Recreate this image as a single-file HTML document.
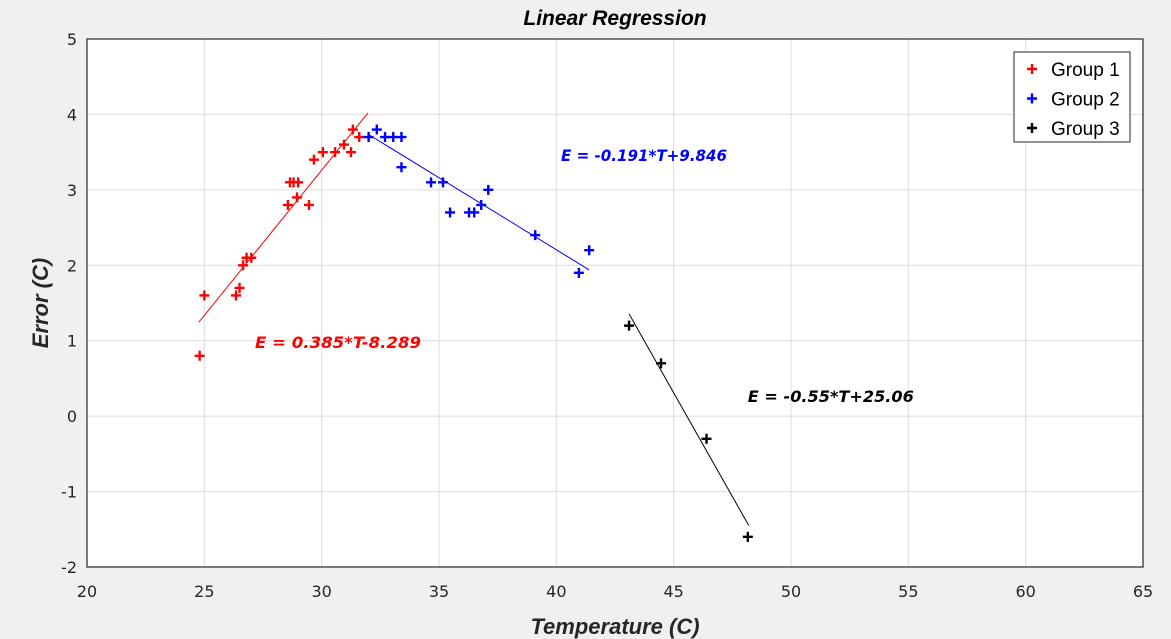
<!DOCTYPE html>
<html><head><meta charset="utf-8"><style>
body{margin:0;background:#f0f0f0;}
svg{display:block;font-family:"DejaVu Sans","Liberation Sans",sans-serif;}
</style></head><body>
<svg id="chart" width="1171" height="639" xmlns="http://www.w3.org/2000/svg">
<rect width="1171" height="639" fill="#f0f0f0"/>
<g id="plot"></g>
</svg>
<script>
const xTicks=[20,25,30,35,40,45,50,55,60,65];
const yTicks=[-2,-1,0,1,2,3,4,5];
const g1T=[24.8,25.0,26.35,26.5,26.65,26.8,27.0,28.56,28.65,28.8,28.95,29.0,29.46,29.67,30.05,30.57,30.95,31.25,31.33,31.6];
const g1E=[0.8,1.6,1.6,1.7,2.0,2.1,2.1,2.8,3.1,3.1,2.9,3.1,2.8,3.4,3.5,3.5,3.6,3.5,3.8,3.7];
const g2T=[32.0,32.35,32.7,33.05,33.4,33.4,34.66,35.17,35.47,36.28,36.5,36.8,37.1,39.1,40.96,41.4];
const g2E=[3.7,3.8,3.7,3.7,3.7,3.3,3.1,3.1,2.7,2.7,2.7,2.8,3.0,2.4,1.9,2.2];
const g3T=[43.1,44.46,46.4,48.16];
const g3E=[1.2,0.7,-0.3,-1.6];
const fits=[{m:0.385,b:-8.289,t0:24.77,t1:31.97,c:'#ff0000',label:'E = 0.385*T-8.289',lt:27.16,le:0.98},
{m:-0.191,b:9.846,t0:32.0,t1:41.4,c:'#0000ff',label:'E = -0.191*T+9.846',lt:40.2,le:3.46},
{m:-0.55,b:25.06,t0:43.1,t1:48.2,c:'#000000',label:'E = -0.55*T+25.06',lt:48.16,le:0.27}];
const L=87,R=1143,T=39,B=567;
const sx=v=>L+(v-20)/45*(R-L), sy=v=>B-(v+2)/7*(B-T);
const p=document.getElementById('plot');const NS='http://www.w3.org/2000/svg';
function el(t,a,par){const e=document.createElementNS(NS,t);for(const k in a)e.setAttribute(k,a[k]);(par||p).appendChild(e);return e;}
let bg=el('rect',{x:L,y:T,width:R-L,height:B-T,fill:'#fff'});


xTicks.forEach(v=>{let l=el('line',{x1:sx(v),x2:sx(v),y1:T,y2:B,stroke:'#dcdcdc','stroke-width':1});


let t=el('text',{x:sx(v),y:B+30,'text-anchor':'middle','font-size':16,fill:'#262626'});t.textContent=v;

});
yTicks.forEach(v=>{let l=el('line',{x1:L,x2:R,y1:sy(v),y2:sy(v),stroke:'#dcdcdc','stroke-width':1});


let t=el('text',{x:L-10,y:sy(v)+6,'text-anchor':'end','font-size':16,fill:'#262626'});t.textContent=v;

});
let fr=el('rect',{x:L,y:T,width:R-L,height:B-T,fill:'none',stroke:'#262626','stroke-width':1.2});


fits.forEach((f,i)=>{let l=el('line',{x1:sx(f.t0),y1:sy(f.m*f.t0+f.b),x2:sx(f.t1),y2:sy(f.m*f.t1+f.b),stroke:f.c,'stroke-width':1});


let t=el('text',{x:sx(f.lt),y:sy(f.le)+6,'text-anchor':'start','font-size':16,'font-weight':'bold','font-style':'italic',fill:f.c,textLength:166,lengthAdjust:'spacingAndGlyphs'});t.textContent=f.label;

});
function plus(x,y,c,par){let g=el('path',{d:`M${x-5} ${y}H${x+5}M${x} ${y-5}V${y+5}`,stroke:c,'stroke-width':2.4,fill:'none'},par);return g;}
[[g1T,g1E,'#ff0000'],[g2T,g2E,'#0000ff'],[g3T,g3E,'#000000']].forEach((s,gi)=>{s[0].forEach((t,i)=>{let m=plus(sx(t),sy(s[1][i]),s[2]);

});});
let lg=el('g',{});


el('rect',{x:1014,y:52,width:116,height:90,fill:'#fff',stroke:'#262626','stroke-width':1},lg);
['#ff0000','#0000ff','#000000'].forEach((c,i)=>{let y=69+i*29.5;plus(1032,y,c,lg);
let t=el('text',{x:1051,y:y+7,'font-size':19,fill:'#000','font-family':'Liberation Sans, sans-serif'},lg);t.textContent='Group '+(i+1);

});
let tt=el('text',{x:615,y:25,'text-anchor':'middle','font-size':21,'font-weight':'bold','font-style':'italic',fill:'#000','font-family':'Liberation Sans, sans-serif'});tt.textContent='Linear Regression';


let xt=el('text',{x:615,y:634,'text-anchor':'middle','font-size':22,'font-weight':'bold','font-style':'italic',fill:'#262626','font-family':'Liberation Sans, sans-serif'});xt.textContent='Temperature (C)';


let yt=el('text',{x:48,y:303,'text-anchor':'middle','font-size':22,'font-weight':'bold','font-style':'italic',fill:'#262626','font-family':'Liberation Sans, sans-serif',transform:'rotate(-90 48 303)'});yt.textContent='Error (C)';


</script>
</body></html>
